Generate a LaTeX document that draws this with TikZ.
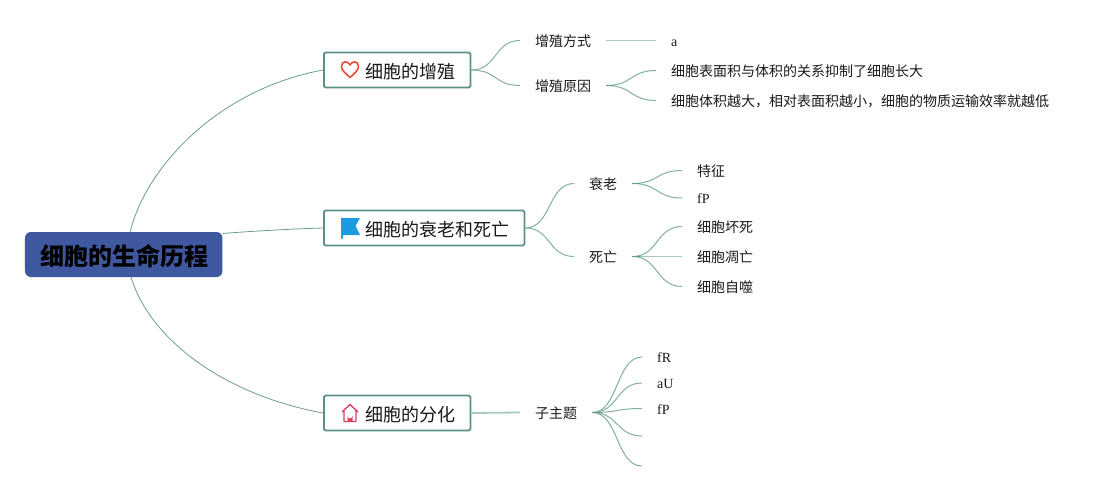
\documentclass[tikz,border=0pt]{standalone}
\usepackage{fontspec}
\setmainfont{Liberation Serif}
\newfontfamily\cjk{Noto Sans CJK SC}
\usetikzlibrary{calc}
\definecolor{teal1}{HTML}{6A9C8E}
\definecolor{teal2}{HTML}{82B09F}
\definecolor{teal3}{HTML}{A6C9BD}
\definecolor{borderc}{HTML}{5A9186}
\definecolor{rootc}{HTML}{4058A0}
\tikzset{
 rootbox/.style={draw=none,fill=rootc,rounded corners=6pt,minimum width=197.5pt,minimum height=45pt,inner sep=0pt,text height=25.5pt,text depth=3pt,font=\cjk\fontsize{24}{24}\selectfont\bfseries,text=black},
 topicbox/.style={draw=borderc,line width=1.8pt,fill=white,rounded corners=1.5pt,minimum height=35pt,inner sep=0pt,anchor=west,font=\cjk\fontsize{18}{18}\selectfont,text=black!90},
 leaf/.style={anchor=west,inner xsep=15pt,inner ysep=0pt,text height=15pt,text depth=3.2pt,font=\cjk\fontsize{14}{14}\selectfont,text=black!90},
 latin/.style={anchor=west,inner xsep=15pt,inner ysep=0pt,text height=15pt,text depth=3.2pt,font=\rmfamily\fontsize{14}{14}\selectfont,text=black!90},
 rootline/.style={draw=teal1,line width=0.8pt},
 br/.style={draw=teal2,line width=1pt},
 straight/.style={draw=teal3,line width=1.8pt},
 stub/.style={draw=teal1,line width=1.6pt},
}
\newcommand{\brc}[3][26]{\draw[br] (#2) .. controls +(#1,0) and +(-#1,0) .. (#3);}
\begin{document}
\begin{tikzpicture}[x=1pt,y=-1pt]
\useasboundingbox (0,0) rectangle (1109,492);
\node[rootbox] (root) at (123.7,254.5) {\hspace*{2.5pt}细胞的生命历程};
\node[topicbox,minimum width=146.5pt] (t1) at (323,70) {};
\node[topicbox,minimum width=200.5pt] (t2) at (323,228) {};
\node[topicbox,minimum width=146.5pt] (t3) at (323,413) {};
\node[anchor=west,inner sep=0pt,font=\cjk\fontsize{18}{18}\selectfont,text=black!90] (t1x) at (365,72) {细胞的增殖};
\node[anchor=west,inner sep=0pt,font=\cjk\fontsize{18}{18}\selectfont,text=black!90] (t2x) at (365,230) {细胞的衰老和死亡};
\node[anchor=west,inner sep=0pt,font=\cjk\fontsize{18}{18}\selectfont,text=black!90] (t3x) at (365,415) {细胞的分化};
% subtopics
\node[leaf] (a1) at (520,40.5) {增殖方式};
\node[leaf] (a2) at (520,85.5) {增殖原因};
\node[latin] (a11) at (656,40.5) {a};
\node[leaf] (a21) at (656,70.5) {细胞表面积与体积的关系抑制了细胞长大};
\node[leaf] (a22) at (656,100.5) {细胞体积越大，相对表面积越小，细胞的物质运输效率就越低};
\node[leaf] (b1) at (574,183.5) {衰老};
\node[leaf] (b2) at (574,256.5) {死亡};
\node[leaf] (b11) at (682,170.5) {特征};
\node[latin] (b12) at (682,198) {fP};
\node[leaf] (b21) at (682,226.5) {细胞坏死};
\node[leaf] (b22) at (682,256.5) {细胞凋亡};
\node[leaf] (b23) at (682,286.5) {细胞自噬};
\node[leaf] (c1) at (520,412.5) {子主题};
\node[latin] (c11) at (642,357) {fR};
\node[latin] (c12) at (642,383) {aU};
\node[latin] (c13) at (642,408.5) {fP};
\coordinate (c14) at (642,436);
\coordinate (c15) at (642,466);
% root connectors
\draw[rootline] (root.74) .. controls (145,170) and (215,90) .. (t1.west);
\draw[rootline] (root.12) .. controls (255,231) and (290,229) .. (t2.west);
\draw[rootline] (root.-72) .. controls (150,340) and (225,395) .. (t3.west);
% branch connectors
\brc{t1.east}{a1.west}
\brc{t1.east}{a2.west}
\draw[straight] (a1.east) -- (a11.west);
\brc{a2.east}{a21.west}
\brc{a2.east}{a22.west}
\brc{t2.east}{b1.west}
\brc{t2.east}{b2.west}
\brc{b1.east}{b11.west}
\brc{b1.east}{b12.west}
\brc{b2.east}{b21.west}
\draw[straight] (b2.east) -- (b22.west);
\brc{b2.east}{b23.west}
\draw[straight] (t3.east) -- (c1.west);
\brc{c1.east}{c11.west}
\brc{c1.east}{c12.west}
\brc{c1.east}{c13.west}
\brc{c1.east}{c14}
\brc{c1.east}{c15}
\draw[stub] (a2.east) -- +(8,0);
\draw[stub] (b1.east) -- +(8,0);
\draw[stub] (b2.east) -- +(8,0);
\draw[stub] (c1.east) -- +(8,0);
% icons
\draw[draw=red!60!brown!90,line width=1.5pt,line join=round] (350,77.5) .. controls (345,73) and (341.5,70) .. (341.5,66.5) .. controls (341.5,60.5) and (348,60.5) .. (350,65) .. controls (352,60.5) and (358.5,60.5) .. (358.5,66.5) .. controls (358.5,70) and (355,73) .. (350,77.5) -- cycle;
\fill[fill={rgb,255:red,27;green,155;blue,224}] (341,218) -- (360,218) -- (355.5,226) -- (360,235) -- (343,235) -- (343,238.5) -- (341,238.5) -- cycle;
\draw[draw={rgb,255:red,220;green,63;blue,98},line width=1.4pt,line join=round] (342,412) -- (350,404.5) -- (358,412) (344,410.5) -- (344,421.5) -- (356,421.5) -- (356,410.5);
\fill[fill={rgb,255:red,220;green,63;blue,98}] (347.5,421.5) -- (347.5,416) arc[start angle=180,end angle=360,x radius=2.5,y radius=-2.5] -- (352.5,421.5) -- cycle;
\end{tikzpicture}
\end{document}
